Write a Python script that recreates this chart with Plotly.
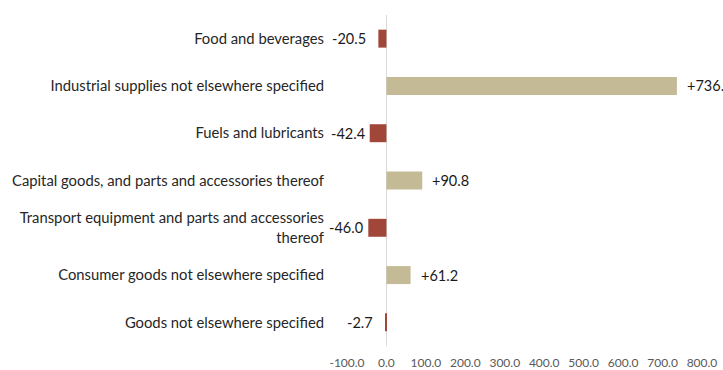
import plotly.graph_objects as go

# Change by product group (values in the units shown on the axis)
categories = [
    "Food and beverages",
    "Industrial supplies not elsewhere specified",
    "Fuels and lubricants",
    "Capital goods, and parts and accessories thereof",
    "Transport equipment and parts and accessories<br>thereof",
    "Consumer goods not elsewhere specified",
    "Goods not elsewhere specified",
]
values = [-20.5, 736.4, -42.4, 90.8, -46.0, 61.2, -2.7]
tick_values = [-100, 0, 100, 200, 300, 400, 500, 600, 700, 800]
tick_labels = ["-100.0", "0.0", "100.0", "200.0", "300.0", "400.0",
               "500.0", "600.0", "700.0", "800.0"]

NEG_COLOR = "#A0473A"
POS_COLOR = "#C4BB96"
FONT = "Lato"

colors = [NEG_COLOR if v < 0 else POS_COLOR for v in values]

fig = go.Figure(
    go.Bar(
        x=values,
        y=categories,
        orientation="h",
        marker=dict(color=colors, line=dict(width=0)),
        width=0.38,
        hoverinfo="skip",
    )
)

# Signed value labels just beyond each bar end
for cat, v in zip(categories, values):
    text = f"{v:+.1f}" if v > 0 else f"{v:.1f}"
    if v < 0:
        shift = -3 if v < -40 else -10
        anchor = "right"
    else:
        shift = 8
        anchor = "left"
    fig.add_annotation(
        x=v, y=cat, text=text, showarrow=False,
        xanchor=anchor, yanchor="middle", xshift=shift,
        font=dict(family=FONT, size=14.5, color="#1a1a1a"),
    )

fig.update_layout(
    width=723,
    height=370,
    margin=dict(l=347, r=21, t=15, b=24),
    paper_bgcolor="white",
    plot_bgcolor="white",
    showlegend=False,
    font=dict(family=FONT, size=14.8, color="#262626"),
    xaxis=dict(
        range=[-100, 800],
        tickvals=tick_values,
        ticktext=tick_labels,
        showgrid=False,
        showline=False,
        zeroline=True,
        zerolinecolor="#D9D9D9",
        zerolinewidth=1,
        ticks="outside",
        ticklen=6,
        tickcolor="rgba(0,0,0,0)",
        tickfont=dict(family=FONT, size=12, color="#595959"),
        automargin=False,
        fixedrange=True,
    ),
    yaxis=dict(
        type="category",
        autorange="reversed",
        showgrid=False,
        showline=False,
        zeroline=False,
        ticks="",
        ticklabelstandoff=22,
        tickfont=dict(family=FONT, size=14.8, color="#262626"),
        automargin=False,
        fixedrange=True,
    ),
)

fig.write_html("out.html")
